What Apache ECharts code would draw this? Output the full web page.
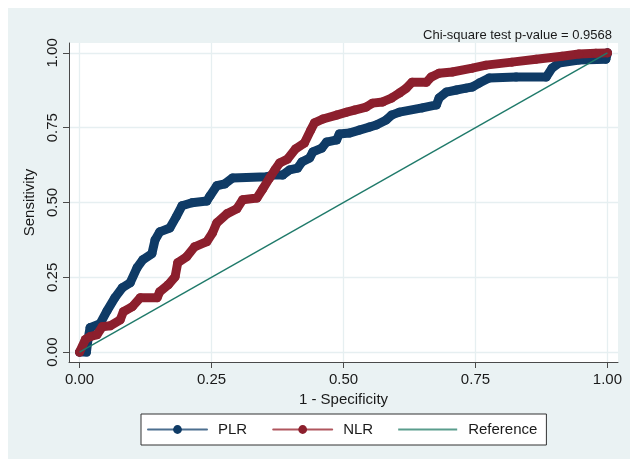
<!DOCTYPE html>
<html>
<head>
<meta charset="utf-8">
<script src="https://cdn.jsdelivr.net/npm/echarts@6/dist/echarts.min.js"></script>
<style>
  html, body { margin: 0; padding: 0; background: #fff; }
  #chart { width: 630px; height: 459px; }
</style>
</head>
<body>
<div id="chart"></div>
<script>
// ROC points: [1 - specificity, sensitivity]
const plrPoints = [
  [0, 0], [0.013, 0], [0.016, 0.042], [0.020, 0.082], [0.039, 0.095], [0.052, 0.138],
  [0.067, 0.182], [0.081, 0.215], [0.096, 0.232], [0.109, 0.282], [0.120, 0.309],
  [0.137, 0.329], [0.143, 0.375], [0.152, 0.402], [0.171, 0.415], [0.183, 0.452],
  [0.194, 0.489], [0.213, 0.499], [0.241, 0.505], [0.247, 0.522], [0.260, 0.556],
  [0.275, 0.562], [0.290, 0.582], [0.355, 0.586], [0.366, 0.592], [0.385, 0.592],
  [0.398, 0.609], [0.413, 0.615], [0.421, 0.635], [0.436, 0.649], [0.442, 0.669],
  [0.459, 0.682], [0.468, 0.702], [0.487, 0.709], [0.492, 0.729], [0.511, 0.732],
  [0.530, 0.742], [0.549, 0.752], [0.562, 0.759], [0.581, 0.776], [0.591, 0.792],
  [0.606, 0.802], [0.649, 0.816], [0.676, 0.826], [0.681, 0.849], [0.695, 0.869],
  [0.714, 0.876], [0.732, 0.882], [0.744, 0.886], [0.757, 0.899], [0.776, 0.916],
  [0.827, 0.919], [0.884, 0.919], [0.895, 0.949], [0.908, 0.966], [0.946, 0.976],
  [0.997, 0.979], [1, 1]
]
const nlrPoints = [
  [0, 0], [0.011, 0.042], [0.020, 0.052], [0.033, 0.058], [0.043, 0.085], [0.058, 0.088],
  [0.077, 0.108], [0.083, 0.135], [0.100, 0.152], [0.115, 0.182], [0.147, 0.182],
  [0.152, 0.202], [0.168, 0.225], [0.181, 0.252], [0.186, 0.299], [0.203, 0.319],
  [0.218, 0.352], [0.241, 0.369], [0.252, 0.399], [0.260, 0.432], [0.279, 0.462],
  [0.298, 0.479], [0.309, 0.509], [0.336, 0.515], [0.347, 0.545], [0.360, 0.582],
  [0.370, 0.609], [0.379, 0.632], [0.394, 0.645], [0.409, 0.679], [0.426, 0.699],
  [0.438, 0.742], [0.445, 0.766], [0.461, 0.779], [0.487, 0.792], [0.506, 0.802],
  [0.521, 0.809], [0.543, 0.819], [0.555, 0.832], [0.574, 0.836], [0.591, 0.849],
  [0.606, 0.866], [0.619, 0.882], [0.630, 0.902], [0.657, 0.902], [0.666, 0.919],
  [0.681, 0.932], [0.706, 0.936], [0.744, 0.949], [0.770, 0.959], [0.819, 0.969],
  [0.865, 0.979], [0.914, 0.989], [0.946, 0.996], [0.978, 0.999], [1, 1]
]
const refPoints = [[0, 0], [1, 1]]
const tickValues = [0, 0.25, 0.5, 0.75, 1]
const pValueText = 'Chi-square test p-value = 0.9568'

const font = 'Liberation Sans, Arial, sans-serif'
const axisColor = '#4a4a4a'
const gridColor = '#e6eff1'

const chart = echarts.init(document.getElementById('chart'))
chart.setOption({
  animation: false,
  backgroundColor: '#eaf2f3',
  textStyle: { fontFamily: font },
  graphic: [
    { type: 'rect', left: 0, top: 0, shape: { width: 630, height: 8 }, style: { fill: '#fff' }, silent: true },
    { type: 'rect', left: 0, top: 0, shape: { width: 8, height: 459 }, style: { fill: '#fff' }, silent: true },
  ],
  title: {
    text: pValueText,
    right: 13,
    top: 24,
    textStyle: { fontFamily: font, fontSize: 13, fontWeight: 'normal', color: '#1a1a1a' },
  },
  grid: {
    left: 69, right: 12, top: 43, bottom: 97,
    show: true, backgroundColor: '#fff', borderWidth: 0,
  },
  xAxis: {
    type: 'value',
    min: -0.02,
    max: 1.02,
    name: '1 - Specificity',
    nameLocation: 'middle',
    nameGap: 28,
    nameTextStyle: { fontFamily: font, fontSize: 15, color: '#1a1a1a', verticalAlign: 'top' },
    axisLine: { show: true, onZero: false, lineStyle: { color: axisColor, width: 1 } },
    axisTick: { show: true, length: 6, customValues: tickValues, lineStyle: { color: axisColor } },
    axisLabel: {
      customValues: tickValues,
      margin: 10,
      fontFamily: font, fontSize: 15, color: '#1a1a1a',
      formatter: v => v.toFixed(2),
    },
    splitLine: { show: true, lineStyle: { color: gridColor, width: 1.3 } },
  },
  yAxis: {
    type: 'value',
    min: -0.033,
    max: 1.033,
    name: 'Sensitivity',
    nameLocation: 'middle',
    nameGap: 29,
    nameRotate: 90,
    nameTextStyle: { fontFamily: font, fontSize: 15, color: '#1a1a1a' },
    axisLine: { show: true, onZero: false, lineStyle: { color: axisColor, width: 1 } },
    axisTick: { show: true, length: 6, customValues: tickValues, lineStyle: { color: axisColor } },
    axisLabel: {
      customValues: tickValues,
      rotate: 90,
      margin: 9,
      fontFamily: font, fontSize: 15, color: '#1a1a1a',
      formatter: v => v.toFixed(2),
    },
    splitLine: { show: true, lineStyle: { color: gridColor, width: 1.3 } },
  },
  legend: {
    left: 141,
    top: 414,
    orient: 'horizontal',
    backgroundColor: '#fff',
    borderColor: '#333',
    borderWidth: 1,
    borderRadius: 0,
    padding: [8, 9, 8, 6],
    itemWidth: 59,
    itemHeight: 11,
    itemGap: 25,
    textStyle: { fontFamily: font, fontSize: 15, color: '#1a1a1a', padding: [0, 0, 0, 6] },
    data: [
      { name: 'PLR', lineStyle: { width: 2, color: '#4d6f8f' } },
      { name: 'NLR', lineStyle: { width: 2, color: '#b0565e' } },
      {
        name: 'Reference',
        icon: 'path://M0,0H59V2H0Z',
        itemStyle: { color: '#5a9d8d', borderWidth: 0 },
      },
    ],
  },
  series: [
    {
      name: 'PLR',
      type: 'line',
      data: plrPoints,
      symbol: 'circle',
      symbolSize: 9,
      color: '#0f3b66',
      lineStyle: { color: '#0f3b66', width: 9, cap: 'round', join: 'round' },
      itemStyle: { color: '#0f3b66' },
      z: 2,
    },
    {
      name: 'NLR',
      type: 'line',
      data: nlrPoints,
      symbol: 'circle',
      symbolSize: 9,
      color: '#8c1f2d',
      lineStyle: { color: '#8c1f2d', width: 9, cap: 'round', join: 'round' },
      itemStyle: { color: '#8c1f2d' },
      z: 3,
    },
    {
      name: 'Reference',
      type: 'line',
      data: refPoints,
      symbol: 'none',
      color: '#1f7a6a',
      lineStyle: { color: '#1f7a6a', width: 1.4 },
      z: 4,
    },
  ],
})
</script>
</body>
</html>
